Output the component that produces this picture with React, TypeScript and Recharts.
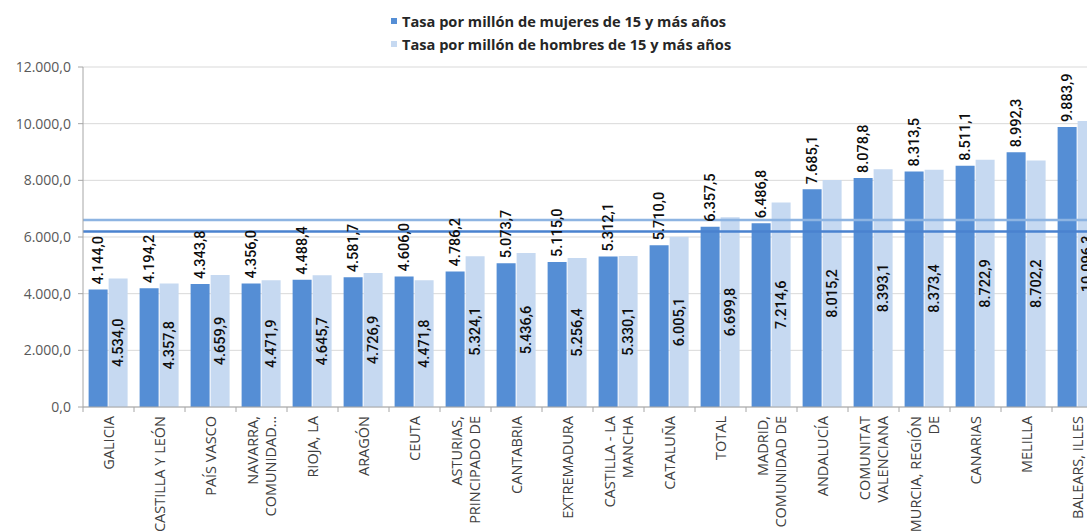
import React from 'react'
import {
  BarChart,
  Bar,
  XAxis,
  YAxis,
  CartesianGrid,
  Legend,
  LabelList,
  ReferenceLine,
} from 'recharts'

const categories = [
  'GALICIA',
  'CASTILLA Y LEÓN',
  'PAÍS VASCO',
  'NAVARRA,\nCOMUNIDAD…',
  'RIOJA, LA',
  'ARAGÓN',
  'CEUTA',
  'ASTURIAS,\nPRINCIPADO DE',
  'CANTABRIA',
  'EXTREMADURA',
  'CASTILLA - LA\nMANCHA',
  'CATALUÑA',
  'TOTAL',
  'MADRID,\nCOMUNIDAD DE',
  'ANDALUCÍA',
  'COMUNITAT\nVALENCIANA',
  'MURCIA, REGIÓN\nDE',
  'CANARIAS',
  'MELILLA',
  'BALEARS, ILLES',
]

const mujeres = [
  4144.0, 4194.2, 4343.8, 4356.0, 4488.4, 4581.7, 4606.0, 4786.2, 5073.7, 5115.0,
  5312.1, 5710.0, 6357.5, 6486.8, 7685.1, 8078.8, 8313.5, 8511.1, 8992.3, 9883.9,
]

const hombres = [
  4534.0, 4357.8, 4659.9, 4471.9, 4645.7, 4726.9, 4471.8, 5324.1, 5436.6, 5256.4,
  5330.1, 6005.1, 6699.8, 7214.6, 8015.2, 8393.1, 8373.4, 8722.9, 8702.2, 10096.3,
]

const yTicks = [0, 2000, 4000, 6000, 8000, 10000, 12000]

// horizontal lines across the plot
const lineaMujeres = 6195
const lineaHombres = 6600

const seriesNames = [
  'Tasa por millón de mujeres de 15 y más años',
  'Tasa por millón de hombres de 15 y más años',
]

const DARK = '#558ED5'
const LIGHT = '#C6D9F1'

const CHART_W = 1110
const CHART_H = 531
const Y_W = 83
const M_RIGHT = 7
const BAND = (CHART_W - Y_W - M_RIGHT) / categories.length

const data = categories.map((name, i) => ({
  name,
  mujeres: mujeres[i],
  hombres: hombres[i],
}))

// 4144 -> "4.144,0"
const fmt = (v: number) => {
  const [int, dec] = Math.abs(v).toFixed(1).split('.')
  return int.replace(/\B(?=(\d{3})+(?!\d))/g, '.') + ',' + dec
}

const labelFont = { fontFamily: 'Roboto', fontSize: 14.5, fontWeight: 500, fill: '#0d0d0d' }

const TopLabel = (props: any) => {
  const { x, y, width, value } = props
  const cx = x + width / 2
  const ty = y - 5
  return (
    <text
      x={cx}
      y={ty}
      transform={`rotate(-90, ${cx}, ${ty})`}
      textAnchor="start"
      dominantBaseline="central"
      {...labelFont}
    >
      {fmt(value)}
    </text>
  )
}

const MidLabel = (props: any) => {
  const { x, y, width, height, value } = props
  const cx = x + width / 2
  const cy = y + height / 2
  return (
    <text
      x={cx}
      y={cy}
      transform={`rotate(-90, ${cx}, ${cy})`}
      textAnchor="middle"
      dominantBaseline="central"
      {...labelFont}
    >
      {fmt(value)}
    </text>
  )
}

const CategoryTick = (props: any) => {
  const { x, y, payload, index } = props
  const lines = String(payload.value).split('\n')
  const gap = 18
  const first = -((lines.length - 1) * gap) / 2
  return (
    <g>
      <line x1={x - BAND / 2} y1={y} x2={x - BAND / 2} y2={y + 5} stroke="#A6A6A6" />
      {index === categories.length - 1 && (
        <line x1={x + BAND / 2} y1={y} x2={x + BAND / 2} y2={y + 5} stroke="#A6A6A6" />
      )}
      <g transform={`translate(${x}, ${y + 9}) rotate(-90)`}>
        {lines.map((t, i) => (
          <text
            key={i}
            x={0}
            y={first + i * gap}
            textAnchor="end"
            dominantBaseline="central"
            fontFamily="Open Sans"
            fontSize={14.5}
            fill="#404040"
          >
            {t}
          </text>
        ))}
      </g>
    </g>
  )
}

const LegendBox = () => (
  <div style={{ fontFamily: 'Open Sans', fontSize: 14.6, fontWeight: 700, color: '#262626' }}>
    {seriesNames.map((n, i) => (
      <div key={n} style={{ display: 'flex', alignItems: 'center', height: 23, whiteSpace: 'nowrap' }}>
        <span
          style={{
            display: 'inline-block',
            width: 6,
            height: 6,
            background: i === 0 ? DARK : LIGHT,
            marginRight: 5,
          }}
        />
        {n}
      </div>
    ))}
  </div>
)

export default function App() {
  return (
    <div
      style={{
        position: 'absolute',
        left: 0,
        top: 0,
        width: 1087,
        height: 531,
        overflow: 'hidden',
        background: '#fff',
      }}
    >
      <BarChart
        width={CHART_W}
        height={CHART_H}
        data={data}
        margin={{ top: 67, right: M_RIGHT, bottom: 0, left: 0 }}
        barCategoryGap="11%"
        barGap={1}
      >
        <CartesianGrid vertical={false} stroke="#D9D9D9" />
        <XAxis
          dataKey="name"
          interval={0}
          height={CHART_H - 407}
          axisLine={{ stroke: '#A6A6A6' }}
          tickLine={false}
          tickSize={0}
          tickMargin={0}
          tick={<CategoryTick />}
        />
        <YAxis
          width={Y_W}
          domain={[0, 12000]}
          ticks={yTicks}
          interval={0}
          tickFormatter={fmt}
          axisLine={{ stroke: '#A6A6A6' }}
          tickLine={{ stroke: '#A6A6A6' }}
          tickSize={5}
          tickMargin={7}
          tick={{ fontFamily: 'Open Sans', fontSize: 14, fill: '#595959' }}
        />
        <Legend
          layout="vertical"
          align="center"
          verticalAlign="middle"
          wrapperStyle={{ top: 9, left: 391, width: 440 }}
          content={<LegendBox />}
        />
        <Bar dataKey="mujeres" name={seriesNames[0]} fill={DARK} isAnimationActive={false}>
          <LabelList dataKey="mujeres" content={<TopLabel />} />
        </Bar>
        <Bar dataKey="hombres" name={seriesNames[1]} fill={LIGHT} isAnimationActive={false}>
          <LabelList dataKey="hombres" content={<MidLabel />} />
        </Bar>
        <ReferenceLine y={lineaHombres} stroke="#8DB4E2" strokeWidth={2.5} />
        <ReferenceLine y={lineaMujeres} stroke="#4A82CF" strokeWidth={2.5} />
      </BarChart>
    </div>
  )
}
